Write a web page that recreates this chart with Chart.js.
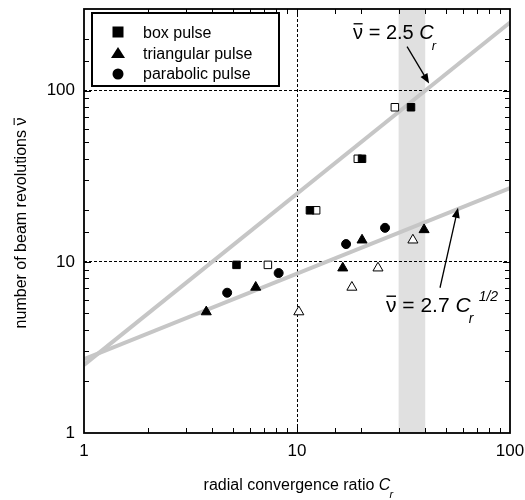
<!DOCTYPE html>
<html>
<head>
<meta charset="utf-8">
<script src="https://cdn.jsdelivr.net/npm/chart.js@4.4.1/dist/chart.umd.min.js"></script>
<style>
  html, body { margin: 0; padding: 0; background: #fff; }
  #wrap { width: 525px; height: 500px; }
</style>
</head>
<body>
<div id="wrap"><canvas id="myChart" width="525" height="500"></canvas></div>
<script>
(() => {
    'use strict'

    // data (Cr, nu-bar)
    const boxFilledX = [5.2, 11.5, 20.2, 34.3]
    const boxFilledY = [9.6, 20, 40, 80]
    const boxOpenX = [7.3, 12.3, 19.3, 28.8]
    const boxOpenY = [9.6, 20, 40, 80]
    const triFilledX = [3.75, 6.4, 16.4, 20.2, 39.5]
    const triFilledY = [5.1, 7.1, 9.2, 13.4, 15.4]
    const triOpenX = [10.2, 18.1, 24, 35]
    const triOpenY = [5.1, 7.1, 9.2, 13.4]
    const circleX = [4.7, 8.2, 17, 25.9]
    const circleY = [6.6, 8.6, 12.7, 15.8]

    // fit lines nu = 2.5 Cr and nu = 2.7 Cr^1/2, end points
    const fitX = [1, 100]
    const fitLinY = [2.5, 250]
    const fitSqrtY = [2.7, 27]

    const bandX = [30, 40]
    const labelTicks = [1, 10, 100]
    const legendLabels = ['box pulse', 'triangular pulse', 'parabolic pulse']

    const pts = (xs, ys) => xs.map((v, i) => ({ x: v, y: ys[i] }))

    const FONT = '"Liberation Sans", Arial, Helvetica, sans-serif'
    Chart.defaults.font.family = FONT
    Chart.defaults.color = '#000'

    function nuBar(ctx, x, base, size) {
        ctx.fillText('ν', x, base)
        const w = ctx.measureText('ν').width
        ctx.save()
        ctx.lineWidth = Math.max(1, size / 15)
        ctx.beginPath()
        ctx.moveTo(x + 0.5, base - size * 0.74)
        ctx.lineTo(x + w - 0.5, base - size * 0.74)
        ctx.stroke()
        ctx.restore()
        return w
    }

    function equation(ctx, x, base, size, num, sup) {
        ctx.font = size + 'px ' + FONT
        let cx = x + nuBar(ctx, x, base, size)
        const mid = ' = ' + num + ' '
        ctx.fillText(mid, cx, base)
        cx += ctx.measureText(mid).width
        ctx.font = 'italic ' + size + 'px ' + FONT
        ctx.fillText('C', cx, base)
        const wc = ctx.measureText('C').width
        ctx.font = 'italic ' + Math.round(size * 0.65) + 'px ' + FONT
        ctx.fillText('r', cx + wc - 2, base + size * 0.55)
        if (sup) {
            ctx.fillText(sup, cx + wc + 8, base - size * 0.52)
        }
    }

    function arrow(ctx, x0, y0, x1, y1) {
        const ang = Math.atan2(y1 - y0, x1 - x0)
        const hl = 10, hw = 4
        ctx.save()
        ctx.lineWidth = 1.3
        ctx.beginPath()
        ctx.moveTo(x0, y0)
        ctx.lineTo(x1 - Math.cos(ang) * hl * 0.8, y1 - Math.sin(ang) * hl * 0.8)
        ctx.stroke()
        ctx.beginPath()
        ctx.moveTo(x1, y1)
        ctx.lineTo(x1 - Math.cos(ang) * hl - Math.sin(ang) * hw, y1 - Math.sin(ang) * hl + Math.cos(ang) * hw)
        ctx.lineTo(x1 - Math.cos(ang) * hl + Math.sin(ang) * hw, y1 - Math.sin(ang) * hl - Math.cos(ang) * hw)
        ctx.closePath()
        ctx.fill()
        ctx.restore()
    }

    const overlay = {
        id: 'overlay',
        beforeDraw(chart) {
            // grey band 30 < Cr < 40, under the grid lines
            const { ctx, chartArea: a, scales: { x } } = chart
            const b0 = x.getPixelForValue(bandX[0])
            const b1 = x.getPixelForValue(bandX[1])
            ctx.save()
            ctx.fillStyle = '#e0e0e0'
            ctx.fillRect(b0, a.top, b1 - b0, a.bottom - a.top)
            ctx.restore()
        },
        afterDatasetsDraw(chart) {
            const { ctx, chartArea: a, scales: { x, y } } = chart
            ctx.save()
            ctx.strokeStyle = '#000'
            ctx.fillStyle = '#000'

            // inward ticks on all four sides
            ctx.lineWidth = 1
            ctx.beginPath()
            x.ticks.forEach(t => {
                const px = Math.round(x.getPixelForValue(t.value)) + 0.5
                if (px <= a.left + 1 || px >= a.right - 1) return
                const len = Number.isInteger(Math.log10(t.value)) ? 7 : 5
                ctx.moveTo(px, a.bottom); ctx.lineTo(px, a.bottom - len)
                ctx.moveTo(px, a.top); ctx.lineTo(px, a.top + len)
            })
            y.ticks.forEach(t => {
                const py = Math.round(y.getPixelForValue(t.value)) + 0.5
                if (py <= a.top + 1 || py >= a.bottom - 1) return
                const len = Number.isInteger(Math.log10(t.value)) ? 7 : 5
                ctx.moveTo(a.left, py); ctx.lineTo(a.left + len, py)
                ctx.moveTo(a.right, py); ctx.lineTo(a.right - len, py)
            })
            ctx.stroke()

            // frame
            ctx.lineWidth = 1.8
            ctx.strokeRect(a.left, a.top, a.right - a.left, a.bottom - a.top)

            // legend
            const lx = a.left + 8, ly = a.top + 4
            ctx.fillStyle = '#fff'
            ctx.fillRect(lx, ly, 187, 73)
            ctx.lineWidth = 2
            ctx.strokeRect(lx, ly, 187, 73)
            ctx.fillStyle = '#000'
            const mx = lx + 26
            ctx.fillRect(mx - 5.5, ly + 19 - 5.5, 11, 11)
            ctx.beginPath()
            ctx.moveTo(mx, ly + 34); ctx.lineTo(mx + 7, ly + 45); ctx.lineTo(mx - 7, ly + 45)
            ctx.closePath(); ctx.fill()
            ctx.beginPath()
            ctx.arc(mx, ly + 61, 5.5, 0, Math.PI * 2); ctx.fill()
            ctx.font = '16px ' + FONT
            ctx.textAlign = 'left'
            ctx.textBaseline = 'alphabetic'
            legendLabels.forEach((s, i) => ctx.fillText(s, lx + 51, ly + 25 + i * 20.7))

            // annotations
            const t1x = x.getPixelForValue(41.7), t1y = y.getPixelForValue(110)
            arrow(ctx, t1x - 22, t1y - 37, t1x, t1y)
            equation(ctx, t1x - 76, t1y - 45, 20, '2.5', null)
            const t2x = x.getPixelForValue(57), t2y = y.getPixelForValue(20.7)
            arrow(ctx, t2x - 18, t2y + 80, t2x, t2y)
            equation(ctx, t2x - 72, t2y + 104, 21, '2.7', '1/2')

            // axis titles
            ctx.font = '16px ' + FONT
            const s1 = 'radial convergence ratio '
            const w1 = ctx.measureText(s1).width
            ctx.font = 'italic 16px ' + FONT
            const wC = ctx.measureText('C').width
            const x0 = (a.left + a.right) / 2 + 3 - (w1 + wC + 6) / 2
            ctx.font = '16px ' + FONT
            ctx.fillText(s1, x0, 490)
            ctx.font = 'italic 16px ' + FONT
            ctx.fillText('C', x0 + w1, 490)
            ctx.font = 'italic 11px ' + FONT
            ctx.fillText('r', x0 + w1 + wC - 1, 498)

            ctx.save()
            ctx.translate(26, (a.top + a.bottom) / 2 + 2)
            ctx.rotate(-Math.PI / 2)
            ctx.font = '16px ' + FONT
            const s2 = 'number of beam revolutions '
            const w2 = ctx.measureText(s2).width
            const wn = ctx.measureText('ν').width
            const st = -(w2 + wn) / 2
            ctx.fillText(s2, st, 0)
            nuBar(ctx, st + w2, 0, 16)
            ctx.restore()

            ctx.restore()
        }
    }

    const marker = (style, fill, r) => ({
        showLine: false,
        pointStyle: style,
        pointRadius: r,
        backgroundColor: fill,
        borderColor: '#000',
        borderWidth: 1
    })

    const ctx = document.getElementById('myChart')
    const myChart = new Chart(ctx, {
        type: 'scatter',
        data: {
            datasets: [
                Object.assign({ label: 'box filled', data: pts(boxFilledX, boxFilledY) }, marker('rect', '#000', 5.3)),
                Object.assign({ label: 'box open', data: pts(boxOpenX, boxOpenY) }, marker('rect', '#fff', 5.3)),
                Object.assign({ label: 'triangle filled', data: pts(triFilledX, triFilledY) }, marker('triangle', '#000', 5.8)),
                Object.assign({ label: 'triangle open', data: pts(triOpenX, triOpenY) }, marker('triangle', '#fff', 5.8)),
                Object.assign({ label: 'parabolic', data: pts(circleX, circleY) }, marker('circle', '#000', 4.5)),
                {
                    label: 'fit linear',
                    data: pts(fitX, fitLinY),
                    showLine: true,
                    borderColor: '#c6c6c6',
                    borderWidth: 4,
                    pointRadius: 0
                },
                {
                    label: 'fit sqrt',
                    data: pts(fitX, fitSqrtY),
                    showLine: true,
                    borderColor: '#c6c6c6',
                    borderWidth: 4,
                    pointRadius: 0
                }
            ]
        },
        options: {
            responsive: false,
            devicePixelRatio: 1,
            animation: false,
            events: [],
            layout: { padding: { top: 9, right: 15, left: 0, bottom: 0 } },
            plugins: {
                legend: { display: false },
                tooltip: { enabled: false }
            },
            scales: {
                x: {
                    type: 'logarithmic',
                    min: 1,
                    max: 100,
                    afterFit: s => {
                        s.height = 67
                        s.paddingLeft = 0
                        s.paddingRight = 0
                    },
                    border: { display: false, dash: [3, 2] },
                    grid: {
                        drawTicks: false,
                        lineWidth: 1,
                        color: c => (c.tick && c.tick.value === 10) ? '#000' : 'rgba(0,0,0,0)'
                    },
                    ticks: {
                        autoSkip: false,
                        maxRotation: 0,
                        padding: 8,
                        font: { size: 17 },
                        color: '#000',
                        callback: v => labelTicks.includes(v) ? String(v) : ''
                    }
                },
                y: {
                    type: 'logarithmic',
                    min: 1,
                    max: 300,
                    afterFit: s => {
                        s.width = 84
                        s.paddingTop = 0
                        s.paddingBottom = 0
                    },
                    border: { display: false, dash: [3, 2] },
                    grid: {
                        drawTicks: false,
                        lineWidth: 1,
                        color: c => (c.tick && (c.tick.value === 10 || c.tick.value === 100)) ? '#000' : 'rgba(0,0,0,0)'
                    },
                    ticks: {
                        autoSkip: false,
                        padding: 9,
                        font: { size: 17 },
                        color: '#000',
                        callback: v => labelTicks.includes(v) ? String(v) : ''
                    }
                }
            }
        },
        plugins: [overlay]
    })
})()
</script>
</body>
</html>
